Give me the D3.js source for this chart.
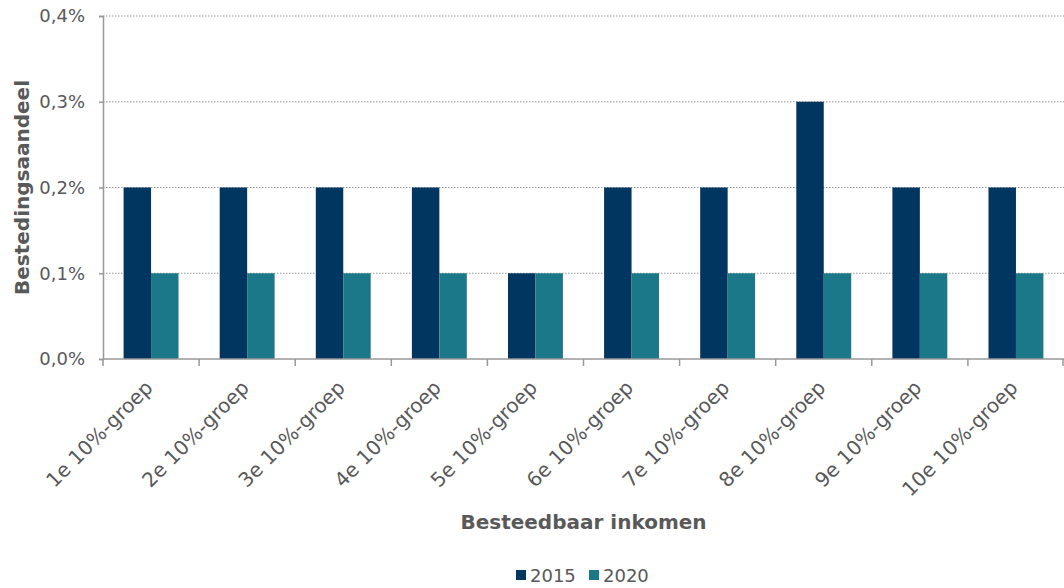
<!DOCTYPE html>
<html><head><meta charset="utf-8">
<script src="https://cdn.jsdelivr.net/npm/d3@7"></script>
<style>body{margin:0;background:#fff;} svg{display:block;}</style>
</head><body>
<svg id="c" width="1064" height="588"></svg>
<script>
const categories = ["1e 10%-groep","2e 10%-groep","3e 10%-groep","4e 10%-groep","5e 10%-groep","6e 10%-groep","7e 10%-groep","8e 10%-groep","9e 10%-groep","10e 10%-groep"];
const seriesNames = ["2015","2020"];
const values2015 = [0.2,0.2,0.2,0.2,0.1,0.2,0.2,0.3,0.2,0.2];
const values2020 = [0.1,0.1,0.1,0.1,0.1,0.1,0.1,0.1,0.1,0.1];
const yTicks = [0,0.1,0.2,0.3,0.4];
const colors = ["#00365f","#1b7889"];

const font = "Verdana, 'DejaVu Sans', sans-serif";
const svg = d3.select("#c");
const m = {l:103, r:0, t:16, b:229};
const W = 1064, H = 588;
const x0 = d3.scaleBand().domain(categories).range([m.l, W-m.r]).paddingInner(0).paddingOuter(0);
const x1 = d3.scaleBand().domain(seriesNames).range([0, x0.bandwidth()]).paddingInner(0).paddingOuter(0.75);
const y = d3.scaleLinear().domain([0,0.4]).range([H-m.b, m.t]);

// gridlines
svg.append("g").selectAll("line").data(yTicks.filter(d=>d>0)).join("line")
  .attr("x1", m.l).attr("x2", W-m.r).attr("y1", d=>y(d)).attr("y2", d=>y(d))
  .attr("stroke","#999").attr("stroke-width",1).attr("stroke-dasharray","1.5,1.5");

// bars
const data = [values2015, values2020];
const g = svg.append("g");
categories.forEach((c,i)=>{
  seriesNames.forEach((s,j)=>{
    g.append("rect").attr("x", x0(c)+x1(s)).attr("width", x1.bandwidth())
      .attr("y", y(data[j][i])).attr("height", y(0)-y(data[j][i])).attr("fill", colors[j]);
  });
});

// y axis
const yAxis = d3.axisLeft(y).tickValues(yTicks).tickSize(4).tickPadding(14)
  .tickFormat(d=>d3.format(".1f")(d).replace(".",",")+"%");
const ya = svg.append("g").attr("transform",`translate(${m.l},0)`).call(yAxis);
ya.select(".domain").attr("stroke","#999").attr("stroke-width",1.5);
ya.selectAll(".tick line").attr("stroke","#999").attr("stroke-width",1.5);
ya.selectAll("text").attr("font-family",font).attr("font-size",18).attr("fill","#595959");

// x axis
const xa = svg.append("g").attr("transform",`translate(0,${y(0)})`);
xa.append("line").attr("x1",m.l).attr("x2",W).attr("stroke","#999").attr("stroke-width",1.5);
xa.selectAll("line.tk").data(categories.map(c=>x0(c)).concat([W-1])).join("line").attr("class","tk")
  .attr("x1",d=>d).attr("x2",d=>d).attr("y1",0).attr("y2",7).attr("stroke","#999").attr("stroke-width",1.5);
xa.selectAll("text").data(categories).join("text")
  .attr("transform", c=>`translate(${x0(c)+x0.bandwidth()/2+3},${30}) rotate(-45)`)
  .attr("text-anchor","end").attr("font-family",font).attr("font-size",20).attr("fill","#595959")
  .text(d=>d);

// axis titles
svg.append("text").attr("x", (m.l+W)/2).attr("y", 529).attr("text-anchor","middle")
  .attr("font-family",font).attr("font-size",20).attr("font-weight","bold").attr("fill","#595959")
  .text("Besteedbaar inkomen");
svg.append("text").attr("transform",`translate(29,${(y(0)+y(0.4))/2}) rotate(-90)`).attr("text-anchor","middle")
  .attr("font-family",font).attr("font-size",20).attr("font-weight","bold").attr("fill","#595959")
  .text("Bestedingsaandeel");

// legend
const leg = svg.append("g");
const lx = [516, 589];
seriesNames.forEach((s,j)=>{
  leg.append("rect").attr("x", lx[j]).attr("y", 570).attr("width",10).attr("height",10).attr("fill",colors[j]);
  leg.append("text").attr("x", lx[j]+14).attr("y", 582).attr("font-family",font).attr("font-size",18).attr("fill","#595959").text(s);
});
</script>
</body></html>
